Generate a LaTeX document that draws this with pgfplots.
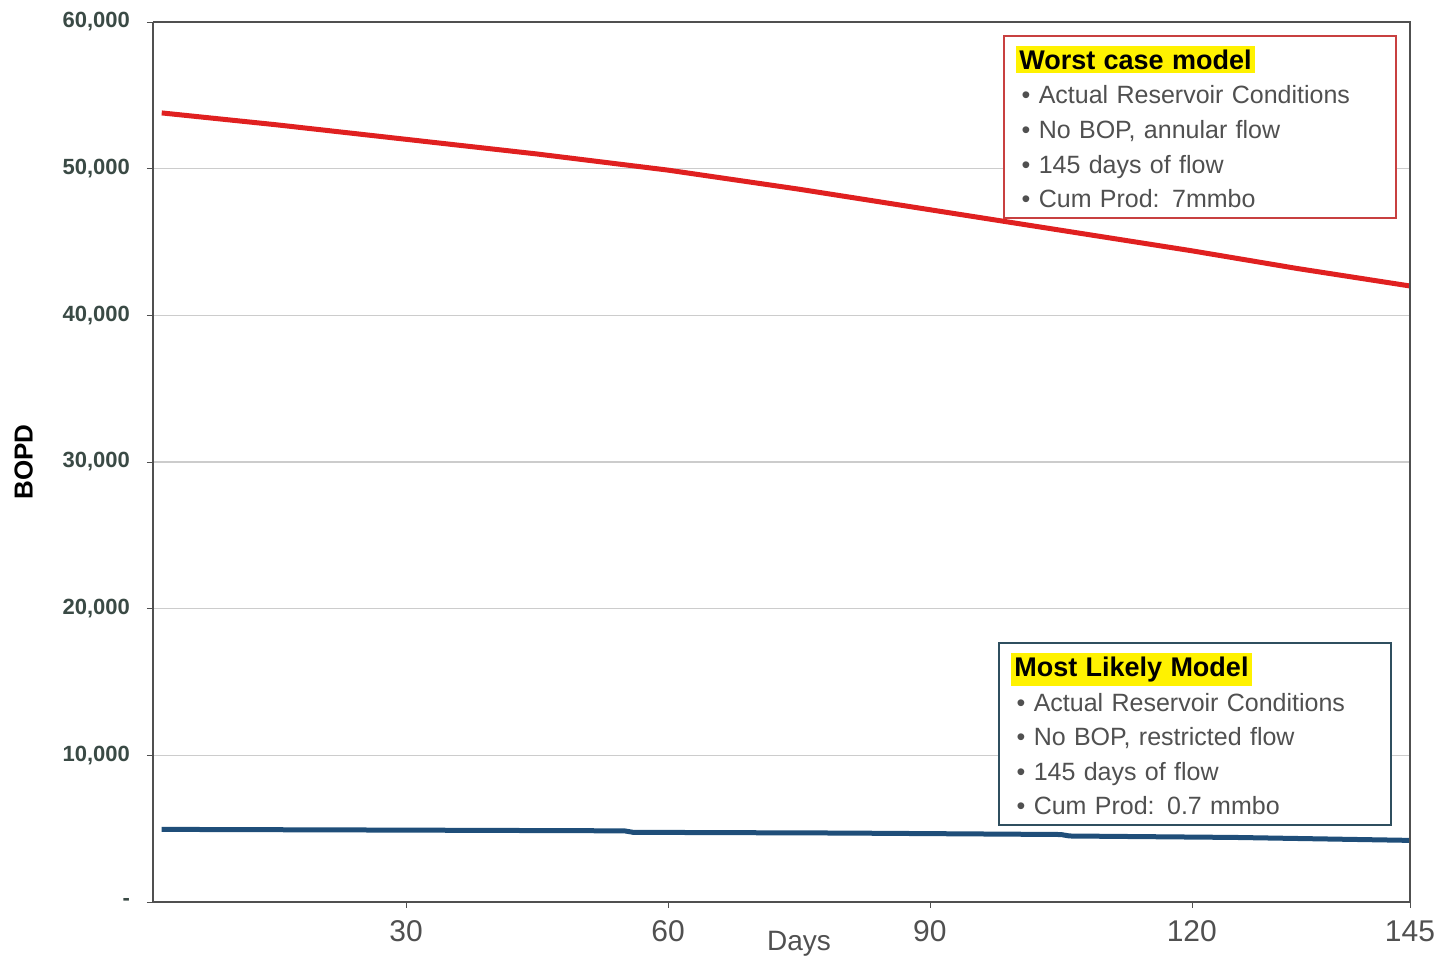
\documentclass[border=0pt]{standalone}
\usepackage{pgfplots}
\pgfplotsset{compat=1.18}
\usepackage{fontspec}
\setmainfont{Liberation Sans}
\definecolor{redline}{HTML}{E02020}
\definecolor{blueline}{HTML}{1F4E79}
\definecolor{axisgray}{HTML}{505050}
\definecolor{labgray}{HTML}{3A4A45}
\definecolor{hl}{HTML}{FFF200}
\definecolor{boxred}{HTML}{C84040}
\definecolor{boxblue}{HTML}{2F4F5F}
\begin{document}
\begin{tikzpicture}
\begin{axis}[
  scale only axis,
  width=628.5pt, height=440pt,
  xmin=1, xmax=145, ymin=0, ymax=60000,
  xtick={30,60,90,120,145},
  ytick={0,10000,20000,30000,40000,50000,60000},
  yticklabels={{-},{10,000},{20,000},{30,000},{40,000},{50,000},{60,000}},
  xticklabel style={font=\fontsize{15}{17}\selectfont, text=axisgray, yshift=-3pt},
  yticklabel style={font=\fontsize{11}{13}\selectfont\bfseries, text=labgray, xshift=-5pt},
  ymajorgrids, grid style={gray!40, line width=0.6pt},
  axis line style={axisgray, line width=1pt},
  tick style={axisgray},
  tick align=outside, major tick length=3pt,
  axis x line*=bottom, axis y line*=left,
  ylabel={\textbf{BOPD}},
  ylabel style={font=\fontsize{13}{15}\selectfont, text=black, at={(ticklabel cs:0.5)}, anchor=south, yshift=8pt},
  xlabel={Days},
  xlabel style={font=\fontsize{14}{16}\selectfont, text=axisgray, at={(axis cs:75,0)}, anchor=north, yshift=-11pt},
  /pgf/number format/assume math mode=true,
  clip=false,
]
\addplot[redline, line width=2.5pt] coordinates {
 (2,53800) (15,53000) (30,52000) (45,51000) (60,49900) (75,48600) (90,47200) (105,45800) (120,44400) (132,43200) (145,42000)};
\addplot[blueline, line width=2.5pt] coordinates {
 (2,4950) (30,4900) (55,4850) (56,4750) (80,4700) (105,4600) (106,4500) (125,4400) (145,4200)};
\draw[axisgray, line width=1pt] (rel axis cs:1,0) -- (rel axis cs:1,1) -- (rel axis cs:0,1);
\node[draw=boxred, line width=1pt, fill=white, anchor=north west, inner xsep=6pt, inner ysep=5pt, align=left, text width=184pt,
  font=\fontsize{12.5}{17.3}\selectfont, text=axisgray] at (rel axis cs:0.676,0.985)
  {{\setlength{\fboxsep}{1.8pt}\colorbox{hl}{\fontsize{13.5}{16}\selectfont\textcolor{black}{\textbf{Worst case model}}}}\\
   \hspace{3pt}\textbullet\ Actual Reservoir Conditions\\
   \hspace{3pt}\textbullet\ No BOP, annular flow\\
   \hspace{3pt}\textbullet\ 145 days of flow\\
   \hspace{3pt}\textbullet\ Cum Prod: 7mmbo};
\node[draw=boxblue, line width=1pt, fill=white, anchor=north west, inner xsep=6pt, inner ysep=5pt, align=left, text width=184pt,
  font=\fontsize{12.5}{17.3}\selectfont, text=axisgray] at (rel axis cs:0.672,0.295)
  {{\setlength{\fboxsep}{1.8pt}\colorbox{hl}{\fontsize{13.5}{16}\selectfont\textcolor{black}{\textbf{Most Likely Model}}}}\\
   \hspace{3pt}\textbullet\ Actual Reservoir Conditions\\
   \hspace{3pt}\textbullet\ No BOP, restricted flow\\
   \hspace{3pt}\textbullet\ 145 days of flow\\
   \hspace{3pt}\textbullet\ Cum Prod: 0.7 mmbo};
\end{axis}
\pgfresetboundingbox
\path ([shift={(-76.5pt,-29pt)}]current axis.south west) rectangle ([shift={(15.5pt,11pt)}]current axis.north east);
\end{tikzpicture}
\end{document}
